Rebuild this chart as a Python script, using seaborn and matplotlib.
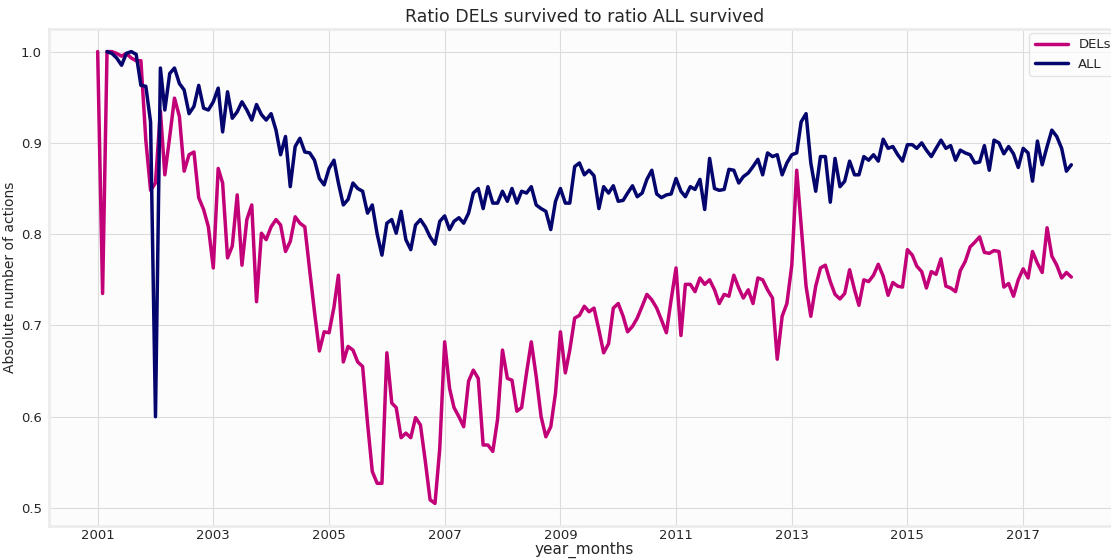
import matplotlib
matplotlib.use("Agg")
import matplotlib.pyplot as plt
import matplotlib.dates as mdates
import seaborn as sns
import numpy as np
import pandas as pd

# monthly ratios, 2001-01 .. 2017-11
year_months = pd.date_range("2001-01-01", periods=203, freq="MS")
tick_years = [2001, 2003, 2005, 2007, 2009, 2011, 2013, 2015, 2017]

dels = [
    1.0, 0.735, 1.0, 1.0, 0.998, 0.995, 0.998, 0.993, 0.99, 0.99,
    0.903, 0.848, 0.856, 0.935, 0.865, 0.907, 0.949, 0.929, 0.869, 0.887,
    0.89, 0.84, 0.827, 0.808, 0.763, 0.872, 0.856, 0.774, 0.787, 0.843,
    0.766, 0.816, 0.832, 0.726, 0.801, 0.794, 0.808, 0.816, 0.81, 0.781,
    0.792, 0.819, 0.812, 0.808, 0.76, 0.715, 0.672, 0.693, 0.692, 0.72,
    0.755, 0.66, 0.677, 0.673, 0.66, 0.655, 0.593, 0.54, 0.527, 0.527,
    0.67, 0.615, 0.61, 0.577, 0.582, 0.577, 0.599, 0.591, 0.551, 0.509,
    0.505, 0.565, 0.682, 0.631, 0.61, 0.6, 0.589, 0.639, 0.651, 0.642,
    0.569, 0.569, 0.562, 0.597, 0.673, 0.642, 0.64, 0.606, 0.61, 0.648,
    0.682, 0.644, 0.6, 0.578, 0.589, 0.626, 0.693, 0.648, 0.673, 0.708,
    0.711, 0.721, 0.715, 0.719, 0.695, 0.67, 0.68, 0.719, 0.724, 0.71,
    0.693, 0.699, 0.708, 0.721, 0.734, 0.728, 0.719, 0.706, 0.692, 0.728,
    0.763, 0.689, 0.745, 0.745, 0.737, 0.752, 0.745, 0.75, 0.739, 0.724,
    0.734, 0.732, 0.755, 0.741, 0.73, 0.739, 0.724, 0.752, 0.75, 0.739,
    0.73, 0.663, 0.71, 0.724, 0.766, 0.87, 0.81, 0.743, 0.71, 0.743,
    0.763, 0.766, 0.748, 0.734, 0.729, 0.735, 0.761, 0.739, 0.722, 0.75,
    0.748, 0.755, 0.767, 0.754, 0.733, 0.747, 0.743, 0.742, 0.783, 0.777,
    0.765, 0.759, 0.741, 0.759, 0.756, 0.773, 0.743, 0.741, 0.737, 0.76,
    0.77, 0.786, 0.791, 0.797, 0.78, 0.779, 0.782, 0.781, 0.742, 0.746,
    0.732, 0.75, 0.762, 0.752, 0.781, 0.768, 0.758, 0.807, 0.776, 0.766,
    0.752, 0.758, 0.753,
]

all_ratio = [
    np.nan, np.nan, 1.0, 0.998, 0.993, 0.985, 0.998, 1.0, 0.997, 0.963,
    0.962, 0.923, 0.6, 0.982, 0.936, 0.976, 0.982, 0.965, 0.958, 0.932,
    0.94, 0.963, 0.938, 0.936, 0.945, 0.96, 0.912, 0.956, 0.927, 0.934,
    0.945, 0.936, 0.925, 0.942, 0.931, 0.925, 0.932, 0.914, 0.887, 0.907,
    0.852, 0.896, 0.905, 0.89, 0.889, 0.881, 0.861, 0.854, 0.872, 0.881,
    0.856, 0.832, 0.838, 0.856, 0.85, 0.847, 0.823, 0.832, 0.8, 0.777,
    0.812, 0.816, 0.801, 0.825, 0.794, 0.783, 0.81, 0.816, 0.808, 0.797,
    0.789, 0.814, 0.82, 0.805, 0.814, 0.818, 0.812, 0.823, 0.845, 0.85,
    0.828, 0.852, 0.834, 0.834, 0.847, 0.836, 0.85, 0.834, 0.847, 0.845,
    0.852, 0.832, 0.828, 0.825, 0.805, 0.836, 0.85, 0.834, 0.834, 0.874,
    0.878, 0.865, 0.87, 0.864, 0.828, 0.852, 0.845, 0.853, 0.836, 0.837,
    0.845, 0.853, 0.841, 0.845, 0.86, 0.87, 0.844, 0.84, 0.843, 0.844,
    0.861, 0.847, 0.841, 0.852, 0.849, 0.86, 0.827, 0.883, 0.85, 0.848,
    0.849, 0.871, 0.87, 0.856, 0.863, 0.867, 0.874, 0.882, 0.865, 0.889,
    0.885, 0.887, 0.865, 0.878, 0.887, 0.889, 0.923, 0.932, 0.878, 0.847,
    0.885, 0.885, 0.835, 0.883, 0.852, 0.858, 0.88, 0.865, 0.865, 0.885,
    0.881, 0.887, 0.88, 0.904, 0.894, 0.896, 0.887, 0.88, 0.898, 0.898,
    0.894, 0.9, 0.892, 0.885, 0.894, 0.903, 0.894, 0.897, 0.881, 0.892,
    0.889, 0.887, 0.878, 0.879, 0.897, 0.87, 0.903, 0.9, 0.888, 0.896,
    0.888, 0.873, 0.894, 0.889, 0.858, 0.902, 0.876, 0.896, 0.914, 0.907,
    0.894, 0.869, 0.876,
]

df = pd.DataFrame({"year_months": year_months, "DELs": dels, "ALL": all_ratio})
df_long = df.melt(id_vars="year_months", var_name="serie", value_name="ratio")

sns.set_style("whitegrid", {
    "axes.facecolor": "#fcfcfc",
    "axes.edgecolor": "#ececec",
    "grid.color": "#dcdcdc",
})
plt.rcParams["font.family"] = ["DejaVu Sans"]

fig = plt.figure(figsize=(11.11, 5.6), dpi=100)
ax = fig.add_axes([0.0441, 0.0607, 0.964, 0.8875])

sns.lineplot(data=df_long, x="year_months", y="ratio", hue="serie",
             palette={"DELs": "#c20078", "ALL": "#05056e"},
             linewidth=2.5, ax=ax)

for s in ax.spines.values():
    s.set_linewidth(2)
    s.set_color("#ececec")

ax.set_xticks([pd.Timestamp(f"{y}-01-01") for y in tick_years])
ax.xaxis.set_major_formatter(mdates.DateFormatter("%Y"))

ax.set_title("Ratio DELs survived to ratio ALL survived", fontsize=12.5, pad=5)
ax.set_xlabel("year_months", fontsize=11, labelpad=0)
ax.set_ylabel("Absolute number of actions", fontsize=10, labelpad=3)
ax.tick_params(axis="x", labelsize=9.5, length=0, pad=2)
ax.tick_params(axis="y", labelsize=9.5, length=0, pad=5)
ax.legend(title=None, loc="upper right", fontsize=9.5, frameon=True,
          edgecolor="#dddddd", handlelength=2.5, borderaxespad=0.3)

fig.savefig("out.png", dpi=100)
